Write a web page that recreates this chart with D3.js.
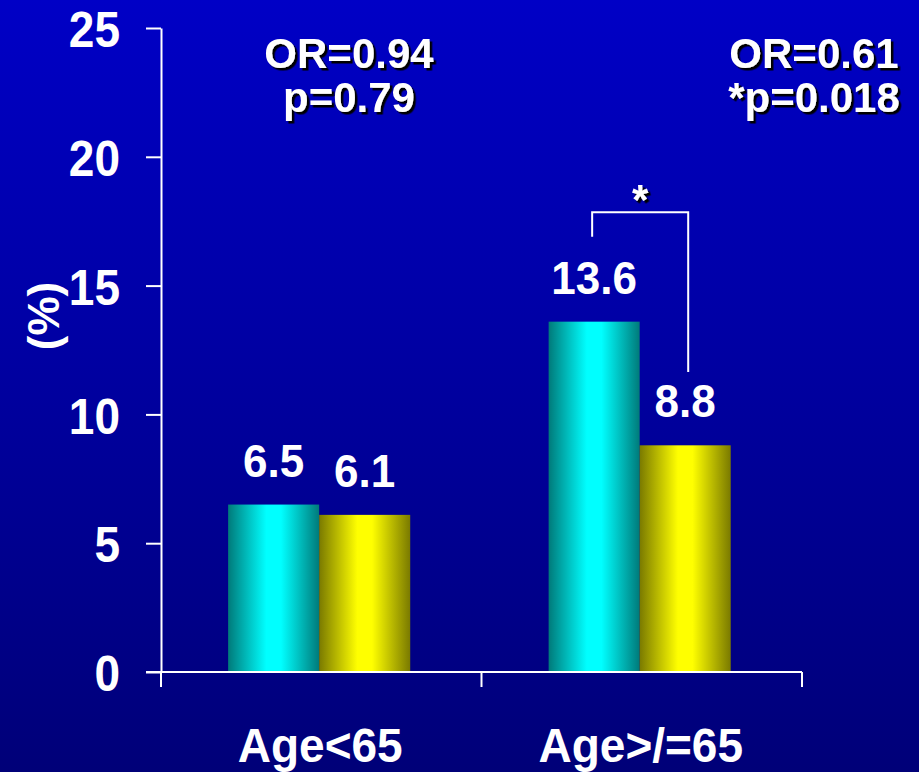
<!DOCTYPE html>
<html>
<head>
<meta charset="utf-8">
<script src="https://cdn.jsdelivr.net/npm/d3@7"></script>
<style>
  html, body { margin: 0; padding: 0; overflow: hidden; background: #00009c; }
  text { font-family: "Liberation Sans", Arial, sans-serif; font-weight: bold; fill: #fff; }
</style>
</head>
<body>
<svg id="chart" width="919" height="772"></svg>
<script>
// Data
const categories = ["Age<65", "Age>/=65"];
const seriesNames = ["Group A", "Group B"];
const seriesA = [6.5, 13.6];
const seriesB = [6.1, 8.8];
const yTicks = [0, 5, 10, 15, 20, 25];
const orLabels = ["OR=0.94", "OR=0.61"];
const pLabels = ["p=0.79", "*p=0.018"];
const bracketLevels = [16.9, 17.85, 11.65]; // left foot, top bar, right foot (in %)

const W = 919, H = 772;
const svg = d3.select("#chart");
const defs = svg.append("defs");

// Background: vertical blue gradient
const bg = defs.append("linearGradient").attr("id", "bg").attr("x1", 0).attr("y1", 0).attr("x2", 0).attr("y2", 1);
bg.append("stop").attr("offset", "0%").attr("stop-color", "#0000c6");
bg.append("stop").attr("offset", "100%").attr("stop-color", "#000078");
svg.append("rect").attr("width", W).attr("height", H).attr("fill", "url(#bg)");

// Hard black drop shadow for the statistics text
const sh = defs.append("filter").attr("id", "shadow")
  .attr("x", "-10%").attr("y", "-10%").attr("width", "130%").attr("height", "130%");
sh.append("feDropShadow").attr("dx", 2.5).attr("dy", 2.5).attr("stdDeviation", 0.4)
  .attr("flood-color", "#000").attr("flood-opacity", 1);

// Cylinder-like bar shading
function barGradient(id, dark, bright) {
  const g = defs.append("linearGradient").attr("id", id).attr("x1", 0).attr("y1", 0).attr("x2", 1).attr("y2", 0);
  g.append("stop").attr("offset", "0%").attr("stop-color", dark);
  g.append("stop").attr("offset", "42%").attr("stop-color", bright);
  g.append("stop").attr("offset", "58%").attr("stop-color", bright);
  g.append("stop").attr("offset", "100%").attr("stop-color", dark);
}
barGradient("gA", "#007a7a", "#00ffff");
barGradient("gB", "#7a7a00", "#ffff00");
const fills = ["url(#gA)", "url(#gB)"];

// Scales
const y = d3.scaleLinear().domain([0, 25]).range([672, 28]);
const x0 = d3.scaleBand().domain(categories).range([161, 802]).padding(0);
const x1 = d3.scaleBand().domain(seriesNames).range([0, x0.bandwidth()])
  .paddingInner(0).paddingOuter(0.76).align(0.485);

const rows = categories.map((c, i) => ({ cat: c, vals: [seriesA[i], seriesB[i]] }));

// Bars
const groups = svg.append("g").selectAll("g").data(rows).join("g")
  .attr("transform", d => `translate(${x0(d.cat)},0)`);
groups.selectAll("rect").data(d => d.vals.map((v, j) => ({ v, s: seriesNames[j], j })))
  .join("rect")
  .attr("x", d => x1(d.s))
  .attr("width", x1.bandwidth())
  .attr("y", d => y(d.v))
  .attr("height", d => y(0) - y(d.v))
  .attr("fill", d => fills[d.j]);

// Value labels
groups.selectAll("text.val").data(d => d.vals.map((v, j) => ({ v, s: seriesNames[j] })))
  .join("text").attr("class", "val")
  .attr("transform", d => `translate(${x1(d.s) + x1.bandwidth() / 2},${y(d.v) - 28}) scale(1,1.05)`)
  .attr("text-anchor", "middle")
  .style("font-size", "44px")
  .text(d => d.v.toFixed(1));

// Y axis
const yAxis = d3.axisLeft(y).tickValues(yTicks).tickSize(15).tickSizeOuter(0).tickPadding(26);
const gy = svg.append("g").attr("transform", "translate(161,0)").call(yAxis);
gy.select(".domain").attr("stroke", "#fff").attr("stroke-width", 2);
gy.selectAll(".tick line").attr("stroke", "#fff").attr("stroke-width", 2);
gy.selectAll(".tick text").attr("fill", "#fff")
  .style("font-family", "'Liberation Sans', Arial, sans-serif")
  .style("font-weight", "bold").style("font-size", "46px")
  .attr("dy", "0.36em")
  .attr("transform", "translate(0,1) scale(1,1.07)");

// X axis: baseline with ticks on the category boundaries
const gx = svg.append("g");
gx.append("line").attr("x1", 146).attr("x2", x0.range()[1])
  .attr("y1", y(0)).attr("y2", y(0)).attr("stroke", "#fff").attr("stroke-width", 2);
const edges = [x0(categories[0])].concat(categories.map(c => x0(c) + x0.bandwidth()));
gx.selectAll("line.tk").data(edges).join("line").attr("class", "tk")
  .attr("x1", d => d).attr("x2", d => d)
  .attr("y1", y(0)).attr("y2", y(0) + 15)
  .attr("stroke", "#fff").attr("stroke-width", 2);
gx.selectAll("text").data(categories).join("text")
  .attr("transform", d => `translate(${x0(d) + x0.bandwidth() / 2 - 1},762) scale(1,1.04)`)
  .attr("text-anchor", "middle")
  .style("font-size", "46px")
  .text(d => d);

// Y title
svg.append("text")
  .attr("transform", "translate(59,316) rotate(-90)")
  .attr("text-anchor", "middle")
  .style("font-size", "44px")
  .text("(%)");

// Statistics text (with drop shadow)
function shadowText(x, yy, str, size) {
  svg.append("text").attr("x", x).attr("y", yy).attr("text-anchor", "middle")
    .attr("filter", "url(#shadow)")
    .style("font-size", size + "px").text(str);
}
const statX = [349, 814];
orLabels.forEach((t, i) => shadowText(statX[i], 68, t, 42));
pLabels.forEach((t, i) => shadowText(statX[i], 112, t, 42));

// Significance bracket between the two bars of the older group
const c2 = categories[1];
const bx1 = x0(c2) + x1(seriesNames[0]) + x1.bandwidth() / 2 - 2;
const bx2 = x0(c2) + x1(seriesNames[1]) + x1.bandwidth() / 2 + 3;
svg.append("path")
  .attr("d", `M${bx1},${y(bracketLevels[0])}V${y(bracketLevels[1])}H${bx2}V${y(bracketLevels[2])}`)
  .attr("fill", "none").attr("stroke", "#fff").attr("stroke-width", 2);
shadowText((bx1 + bx2) / 2, 214, "*", 42);
</script>
</body>
</html>
